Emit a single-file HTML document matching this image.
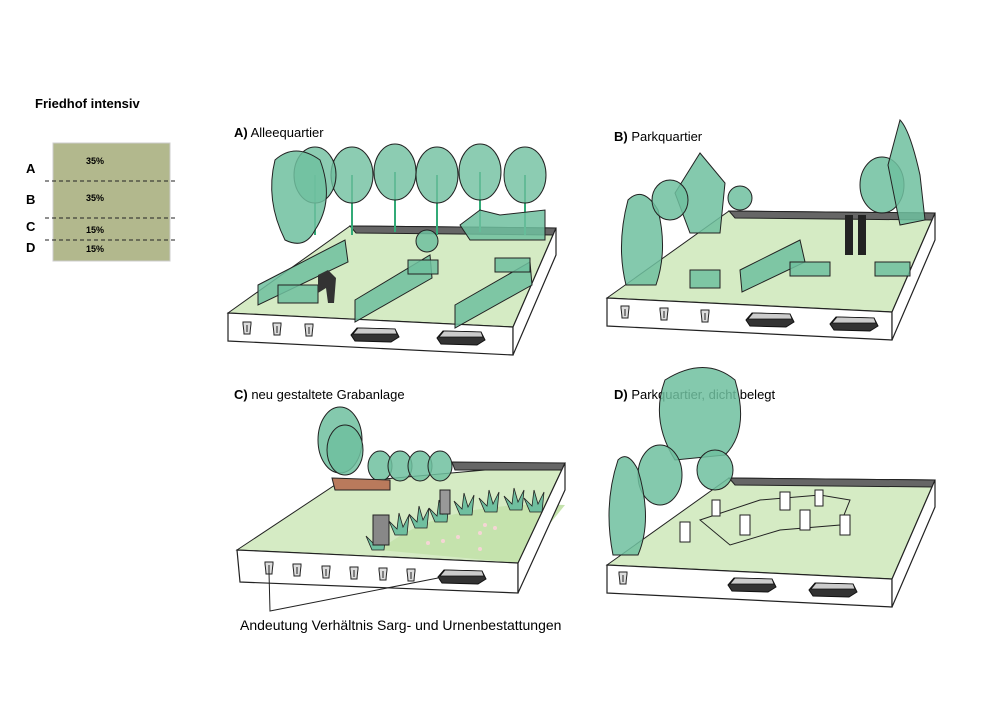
<!DOCTYPE html><html><head><meta charset="utf-8"><style>
body{margin:0;background:#fff}svg{display:block}
text{font-family:"Liberation Sans",sans-serif}
</style></head><body>
<svg width="1000" height="707" viewBox="0 0 1000 707" xmlns="http://www.w3.org/2000/svg">
<defs>
<g id="block">
<polygon points="0,0 122,-87 328,-85 285,14" fill="#d5ebc4" stroke="#222" stroke-width="1"/>
<polygon points="122,-87 328,-85 326,-78 128,-80" fill="#666" stroke="#222" stroke-width="1"/>
<polygon points="0,0 285,14 285,42 0,28" fill="#fff" stroke="#222" stroke-width="1.2"/>
<polygon points="285,14 328,-85 328,-58 285,42" fill="#fff" stroke="#222" stroke-width="1.2"/>
</g>
<g id="urn"><path d="M-4,-6 h8 v2 q-1,8 -1,10 h-6 q0,-2 -1,-10z" fill="#ddd" stroke="#222"/><line x1="0" y1="-3" x2="0" y2="4" stroke="#222"/></g>
<g id="coffin"><polygon points="-22,0 -16,-7 22,-6 26,2 18,7 -18,6" fill="#333" stroke="#111"/><polygon points="-20,-1 -15,-7 22,-6 24,-1" fill="#ccc" stroke="#111" stroke-width=".8"/></g>
<g id="tree"><line x1="0" y1="0" x2="0" y2="60" stroke="#3a7" stroke-width="2"/><ellipse cx="0" cy="0" rx="21" ry="28" fill="#6fbf9f" fill-opacity=".8" stroke="#222"/></g>
<g id="grass"><path d="M0,0 l-6,-14 8,8 2,-16 4,14 6,-12 -2,20z" fill="#6fbf9f" stroke="#222" stroke-width=".8"/></g>
</defs>

<text x="35" y="108" font-size="13" font-weight="bold">Friedhof intensiv</text>
<rect x="53" y="143" width="117" height="118" fill="#b2b88d" stroke="#ccc"/>
<g stroke="#222" stroke-dasharray="4,3"><line x1="45" y1="181" x2="177" y2="181"/><line x1="45" y1="218" x2="177" y2="218"/><line x1="45" y1="240" x2="177" y2="240"/></g>
<g font-size="13" font-weight="bold"><text x="26" y="173">A</text><text x="26" y="204">B</text><text x="26" y="231">C</text><text x="26" y="252">D</text></g>
<g font-size="9" font-weight="bold"><text x="86" y="164">35%</text><text x="86" y="201">35%</text><text x="86" y="233">15%</text><text x="86" y="252">15%</text></g>

<g font-size="13"><text x="234" y="137"><tspan font-weight="bold">A)</tspan> Alleequartier</text>
<text x="614" y="141"><tspan font-weight="bold">B)</tspan> Parkquartier</text>
<text x="234" y="399"><tspan font-weight="bold">C)</tspan> neu gestaltete Grabanlage</text>
<text x="614" y="399"><tspan font-weight="bold">D)</tspan> Parkquartier, dicht belegt</text>
<text x="240" y="630" font-size="14">Andeutung Verhältnis Sarg- und Urnenbestattungen</text></g>

<!-- A -->
<use href="#block" x="228" y="313"/>
<g fill="#6fbf9f" fill-opacity=".85" stroke="#222">
<use href="#tree" x="352" y="175"/><use href="#tree" x="395" y="172"/><use href="#tree" x="437" y="175"/><use href="#tree" x="480" y="172"/><use href="#tree" x="525" y="175"/><use href="#tree" x="315" y="175"/>
<path d="M275,160 q20,-18 45,0 q15,40 -5,70 q-10,20 -30,10 q-20,-40 -10,-80z"/>
<polygon points="460,225 480,210 500,215 545,210 545,240 470,240"/>
<polygon points="258,285 345,240 348,262 258,305"/>
<polygon points="355,300 430,255 432,278 355,322"/>
<polygon points="455,305 530,262 532,285 455,328"/>
<circle cx="427" cy="241" r="11"/>
<rect x="278" y="285" width="40" height="18"/><rect x="408" y="260" width="30" height="14"/><rect x="495" y="258" width="35" height="14"/></g>
<path d="M318,275 l10,-5 8,8 -2,25 -6,0 -2,-15 -8,5z" fill="#333"/>
<use href="#urn" x="247" y="328"/><use href="#urn" x="277" y="329"/><use href="#urn" x="309" y="330"/>
<use href="#coffin" x="373" y="335"/><use href="#coffin" x="459" y="338"/>

<!-- B -->
<use href="#block" x="607" y="298"/>
<g fill="#6fbf9f" fill-opacity=".85" stroke="#222">
<path d="M628,200 q15,-15 30,10 q10,40 -2,75 l-30,0 q-10,-40 2,-85z"/>
<path d="M700,153 l25,30 -5,50 -30,0 -15,-40z"/>
<ellipse cx="670" cy="200" rx="18" ry="20"/>
<circle cx="740" cy="198" r="12"/>
<ellipse cx="882" cy="185" rx="22" ry="28"/>
<path d="M900,120 q10,10 20,55 l5,45 -25,5 -12,-60z"/>
<polygon points="740,270 800,240 805,262 742,292"/>
<rect x="790" y="262" width="40" height="14"/><rect x="875" y="262" width="35" height="14"/>
<rect x="690" y="270" width="30" height="18"/></g>
<g fill="#222"><rect x="845" y="215" width="8" height="40"/><rect x="858" y="215" width="8" height="40"/></g>
<use href="#urn" x="625" y="312"/><use href="#urn" x="664" y="314"/><use href="#urn" x="705" y="316"/>
<use href="#coffin" x="768" y="320"/><use href="#coffin" x="852" y="324"/>

<!-- C -->
<polygon points="237,550 338,483 565,463 518,563" fill="#d5ebc4" stroke="#222"/>
<path d="M380,550 q60,-50 185,-45 l-47,58z" fill="#c5e3ad"/>
<polygon points="452,462 565,463 562,470 455,470" fill="#666" stroke="#222"/>
<polygon points="237,550 518,563 518,593 240,582" fill="#fff" stroke="#222" stroke-width="1.2"/>
<polygon points="518,563 565,463 565,490 518,593" fill="#fff" stroke="#222" stroke-width="1.2"/>
<g fill="#6fbf9f" fill-opacity=".85" stroke="#222">
<ellipse cx="340" cy="440" rx="22" ry="33"/><ellipse cx="345" cy="450" rx="18" ry="25"/>
<ellipse cx="380" cy="466" rx="12" ry="15"/><ellipse cx="400" cy="466" rx="12" ry="15"/><ellipse cx="420" cy="466" rx="12" ry="15"/><ellipse cx="440" cy="466" rx="12" ry="15"/></g>
<use href="#grass" x="372" y="550"/><use href="#grass" x="395" y="535"/><use href="#grass" x="415" y="528"/><use href="#grass" x="435" y="522"/><use href="#grass" x="460" y="515"/><use href="#grass" x="485" y="512"/><use href="#grass" x="510" y="510"/><use href="#grass" x="530" y="512"/>
<polygon points="332,478 390,480 390,490 335,490" fill="#b97a5c" stroke="#222"/>
<rect x="373" y="515" width="16" height="30" fill="#888" stroke="#222"/><rect x="440" y="490" width="10" height="24" fill="#999" stroke="#222"/>
<g fill="#f5d5d5"><circle cx="428" cy="543" r="2"/><circle cx="443" cy="541" r="2"/><circle cx="458" cy="537" r="2"/><circle cx="480" cy="533" r="2"/><circle cx="485" cy="525" r="2"/><circle cx="495" cy="528" r="2"/><circle cx="480" cy="549" r="2"/></g>
<use href="#urn" x="269" y="568"/><use href="#urn" x="297" y="570"/><use href="#urn" x="326" y="572"/><use href="#urn" x="354" y="573"/><use href="#urn" x="383" y="574"/><use href="#urn" x="411" y="575"/>
<use href="#coffin" x="460" y="577"/>
<polyline points="269,572 270,611 438,578" fill="none" stroke="#222"/>

<!-- D -->
<use href="#block" x="607" y="565"/>
<g fill="#6fbf9f" fill-opacity=".85" stroke="#222">
<path d="M665,380 q40,-25 70,0 q15,50 -10,75 l-50,5 q-25,-40 -10,-80z"/>
<ellipse cx="660" cy="475" rx="22" ry="30"/>
<path d="M618,460 q10,-10 20,10 q15,50 0,85 l-25,0 q-10,-50 5,-95z"/>
<ellipse cx="715" cy="470" rx="18" ry="20"/></g>
<g fill="none" stroke="#222"><polygon points="700,520 760,500 820,495 850,500 840,525 780,530 730,545"/></g>
<g fill="#fff" stroke="#222"><rect x="680" y="522" width="10" height="20"/><rect x="740" y="515" width="10" height="20"/><rect x="800" y="510" width="10" height="20"/><rect x="780" y="492" width="10" height="18"/><rect x="840" y="515" width="10" height="20"/><rect x="712" y="500" width="8" height="16"/><rect x="815" y="490" width="8" height="16"/></g>
<use href="#urn" x="623" y="578"/><use href="#coffin" x="750" y="585"/><use href="#coffin" x="831" y="590"/>
</svg>
</body></html>
